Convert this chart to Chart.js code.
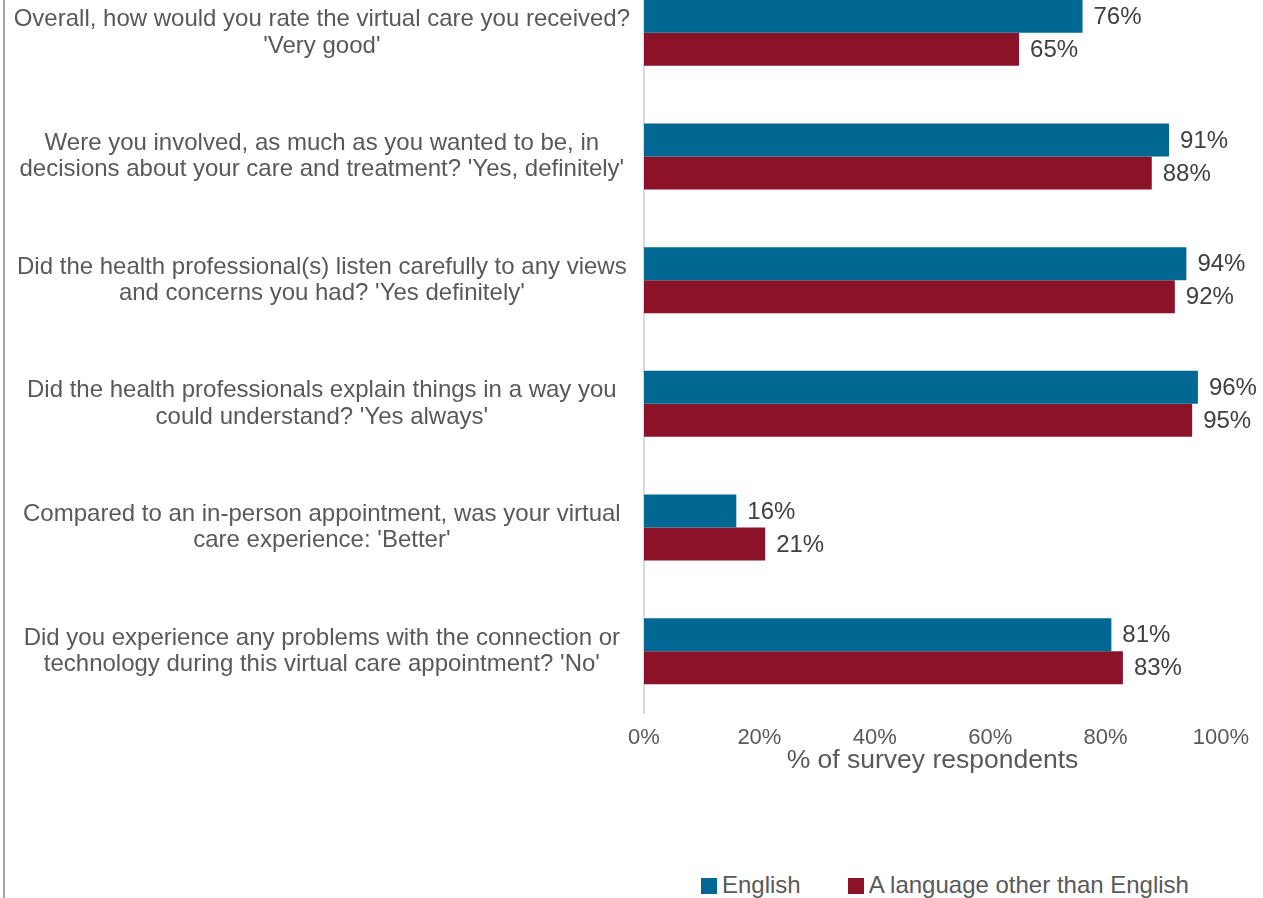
<!DOCTYPE html>
<html>
<head>
<meta charset="utf-8">
<script src="https://cdn.jsdelivr.net/npm/chart.js@4"></script>
<style>
  html, body { margin: 0; padding: 0; background: #fff; }
  body { width: 1263px; height: 898px; overflow: hidden; position: relative; font-family: "Liberation Sans", Arial, sans-serif; }
  #frame { position: absolute; left: 3px; top: 0; width: 2px; height: 898px; background: #a6a6a6; }
  #wrap { position: absolute; left: 0; top: -40px; width: 1263px; height: 830px; }
  #legend { position: absolute; left: 701px; top: 871px; font-size: 24px; color: #595959; line-height: 28px; white-space: nowrap; }
  #legend span.box { display: inline-block; width: 16px; height: 16px; vertical-align: -1px; margin-right: 5px; }
  #legend span.item { margin-right: 47px; }
</style>
</head>
<body>
<div id="frame"></div>
<div id="wrap"><canvas id="c" width="1263" height="830"></canvas></div>
<div id="legend"></div>
<script>
const categories = [
  ["Overall, how would you rate the virtual care you received?", "'Very good'"],
  ["Were you involved, as much as you wanted to be, in", "decisions about your care and treatment? 'Yes, definitely'"],
  ["Did the health professional(s) listen carefully to any views", "and concerns you had? 'Yes definitely'"],
  ["Did the health professionals explain things in a way you", "could understand? 'Yes always'"],
  ["Compared to an in-person appointment, was your virtual", "care experience: 'Better'"],
  ["Did you experience any problems with the connection or", "technology during this virtual care appointment? 'No'"]
];
const seriesNames = ["English", "A language other than English"];
const englishValues = [76, 91, 94, 96, 16, 81];
const otherLanguageValues = [65, 88, 92, 95, 21, 83];
const xTicks = [0, 20, 40, 60, 80, 100];
const axisTitle = "% of survey respondents";
const colors = ["#006892", "#8b1329"];

const FONT = '"Liberation Sans", Arial, sans-serif';

const valueLabels = {
  id: 'valueLabels',
  afterDatasetsDraw(chart) {
    const ctx = chart.ctx;
    ctx.save();
    ctx.font = '24px ' + FONT;
    ctx.fillStyle = '#404040';
    ctx.textAlign = 'left';
    ctx.textBaseline = 'middle';
    chart.data.datasets.forEach((ds, i) => {
      const meta = chart.getDatasetMeta(i);
      meta.data.forEach((bar, j) => {
        ctx.fillText(ds.data[j] + '%', bar.x + 11, bar.y + 1);
      });
    });
    ctx.restore();
  }
};

new Chart(document.getElementById('c'), {
  type: 'bar',
  data: {
    labels: categories,
    datasets: [
      { label: seriesNames[0], data: englishValues, backgroundColor: colors[0] },
      { label: seriesNames[1], data: otherLanguageValues, backgroundColor: colors[1] }
    ]
  },
  options: {
    indexAxis: 'y',
    responsive: false,
    animation: false,
    events: [],
    datasets: { bar: { categoryPercentage: 0.534, barPercentage: 1.0 } },
    layout: { padding: { top: 11, right: 42, left: 0, bottom: 0 } },
    plugins: { legend: { display: false }, tooltip: { enabled: false } },
    scales: {
      x: {
        min: 0, max: 100,
        afterFit(scale) { scale.height = 77; scale.paddingLeft = 0; scale.paddingRight = 0; },
        afterBuildTicks(scale) { scale.ticks = xTicks.map(v => ({ value: v })); },
        grid: { display: false, drawTicks: false },
        border: { display: false },
        ticks: {
          padding: 12,
          color: '#595959',
          font: { family: FONT, size: 22 },
          callback: v => v + '%'
        },
        title: {
          display: true,
          text: axisTitle,
          color: '#595959',
          font: { family: FONT, size: 26.5 },
          padding: { top: 0, bottom: 13 }
        }
      },
      y: {
        afterFit(scale) { scale.width = 644; scale.paddingTop = 0; scale.paddingBottom = 0; },
        grid: { display: false, drawTicks: false },
        border: { display: true, color: '#d9d9d9', width: 2 },
        ticks: {
          crossAlign: 'center',
          padding: 14,
          color: '#595959',
          font: { family: FONT, size: 24, lineHeight: 1.1 }
        }
      }
    }
  },
  plugins: [valueLabels]
});

const lg = document.getElementById('legend');
seriesNames.forEach((n, i) => {
  const item = document.createElement('span');
  item.className = 'item';
  const box = document.createElement('span');
  box.className = 'box';
  box.style.background = colors[i];
  item.appendChild(box);
  item.appendChild(document.createTextNode(n));
  lg.appendChild(item);
});
</script>
</body>
</html>
